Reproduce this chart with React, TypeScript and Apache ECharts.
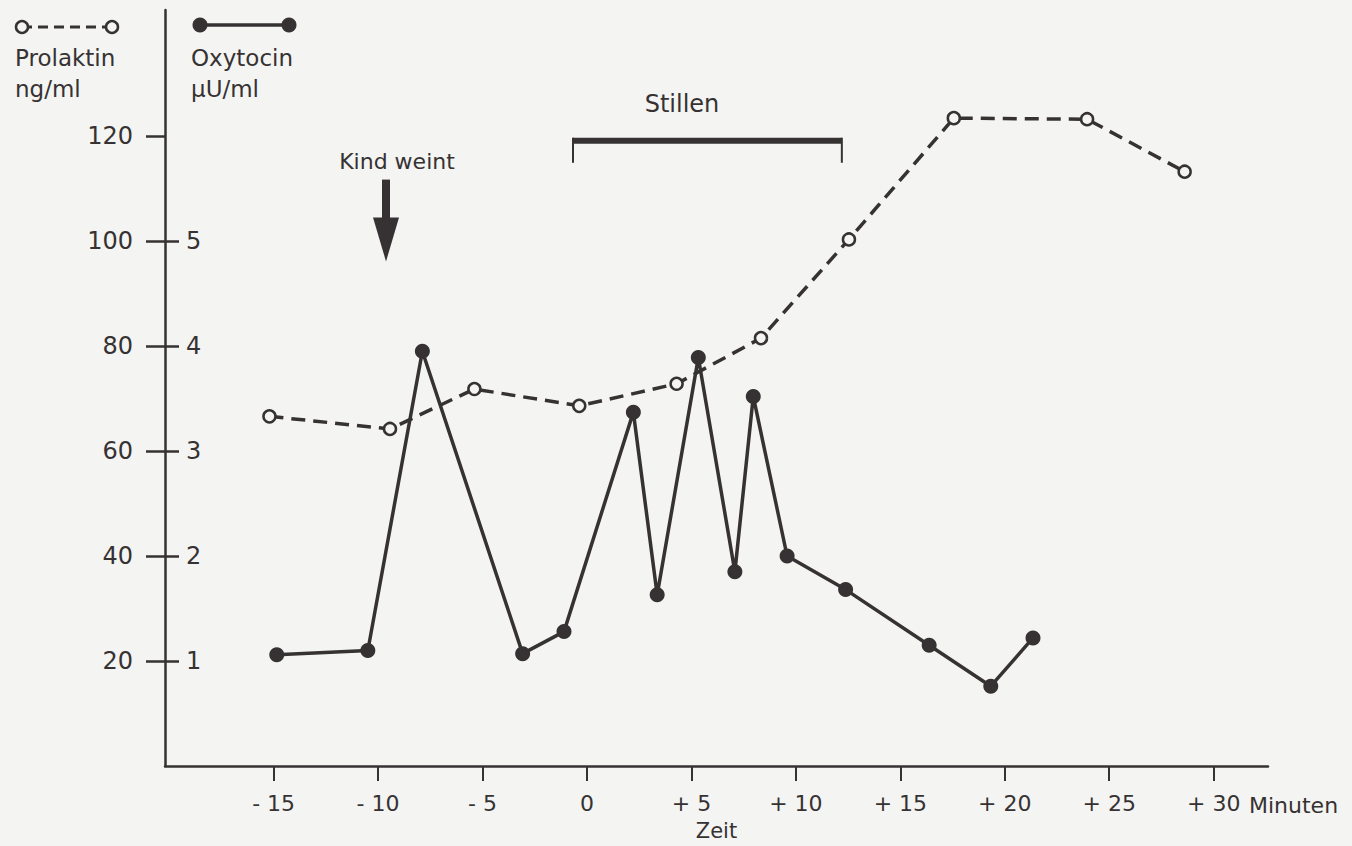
import React, { useEffect, useRef } from "react";
import * as echarts from "echarts";

// Time axis (minutes)
const timeTicks = [-15, -10, -5, 0, 5, 10, 15, 20, 25, 30];
const timeLabels = ["- 15", "- 10", "- 5", "0", "+ 5", "+ 10", "+ 15", "+ 20", "+ 25", "+ 30"];

// Prolaktin (ng/ml), dashed line, open circles
const prolaktinTime = [-15.2, -9.43, -5.39, -0.37, 4.29, 8.33, 12.54, 17.56, 23.94, 28.61];
const prolaktinValue = [66.6, 64.2, 71.8, 68.6, 72.8, 81.5, 100.3, 123.4, 123.2, 113.2];

// Oxytocin (µU/ml), solid line, filled circles
const oxytocinTime = [-14.85, -10.49, -7.88, -3.08, -1.1, 2.22, 3.36, 5.33, 7.08, 7.96, 9.58, 12.38, 16.38, 19.33, 21.35];
const oxytocinValue = [1.06, 1.1, 3.95, 1.07, 1.28, 3.37, 1.63, 3.89, 1.85, 3.52, 2.0, 1.68, 1.15, 0.76, 1.22];

// Axis ticks
const prolaktinTicks = [20, 40, 60, 80, 100, 120];
const oxytocinTicks = [1, 2, 3, 4, 5];

// Annotations (time, value)
const stillen = { start: -0.67, end: 12.2, bar: 119.1, foot: 114.9 };
const kindWeint = { time: -9.62, from: 111.7, to: 96.1 };

const ink = "#363233";
const paper = "#f4f4f2";
const font = "DejaVu Sans";

export default function App() {
  const ref = useRef<HTMLDivElement>(null);

  useEffect(() => {
    if (!ref.current) return;
    const chart = echarts.init(ref.current, undefined, { renderer: "svg" });

    const prolaktinData = prolaktinTime.map((t, i) => [t, prolaktinValue[i]]);
    const oxytocinData = oxytocinTime.map((t, i) => [t, oxytocinValue[i]]);

    const option: any = {
      animation: false,
      backgroundColor: paper,
      grid: { left: 165, right: 84, top: 10, bottom: 78, containLabel: false },
      xAxis: {
        type: "value",
        min: -20.2,
        max: 32.6,
        name: "Zeit",
        nameLocation: "middle",
        nameGap: 54,
        nameTextStyle: { fontFamily: font, fontSize: 21, color: ink },
        axisLine: { show: true, onZero: false, lineStyle: { color: ink, width: 2.5 } },
        axisTick: { show: true, length: 15, customValues: timeTicks, lineStyle: { color: ink, width: 2 } },
        axisLabel: {
          customValues: timeTicks,
          margin: 26,
          fontFamily: font,
          fontSize: 22,
          color: ink,
          formatter: (v: number) => {
            const i = timeTicks.indexOf(Math.round(v));
            return i >= 0 ? timeLabels[i] : "";
          },
        },
        splitLine: { show: false },
      },
      yAxis: [
        {
          type: "value",
          min: 0,
          max: 144,
          position: "left",
          axisLine: { show: true, onZero: false, lineStyle: { color: ink, width: 2.5 } },
          axisTick: { show: true, length: 19, customValues: prolaktinTicks, lineStyle: { color: ink, width: 2.5 } },
          axisLabel: { customValues: prolaktinTicks, margin: 32, fontFamily: font, fontSize: 24, color: ink },
          splitLine: { show: false },
        },
        {
          type: "value",
          min: 0,
          max: 7.2,
          position: "left",
          offset: 0,
          axisLine: { show: false, onZero: false },
          axisTick: { show: true, inside: true, length: 14, customValues: oxytocinTicks, lineStyle: { color: ink, width: 2.5 } },
          axisLabel: { inside: true, customValues: oxytocinTicks, margin: 21, fontFamily: font, fontSize: 24, color: ink },
          splitLine: { show: false },
        },
      ],
      series: [
        {
          name: "Prolaktin",
          type: "line",
          yAxisIndex: 0,
          data: prolaktinData,
          z: 2,
          symbol: "circle",
          symbolSize: 12,
          itemStyle: { color: paper, borderColor: ink, borderWidth: 2.5 },
          lineStyle: { color: ink, width: 3.5, type: [14, 8] },
        },
        {
          name: "Oxytocin",
          type: "line",
          yAxisIndex: 1,
          data: oxytocinData,
          z: 3,
          symbol: "circle",
          symbolSize: 15,
          itemStyle: { color: ink },
          lineStyle: { color: ink, width: 3.5 },
        },
        {
          name: "Stillen",
          type: "custom",
          yAxisIndex: 0,
          data: [[stillen.start, stillen.end, stillen.bar, stillen.foot]],
          encode: { x: [0, 1], y: [2, 3] },
          renderItem: (_params: any, api: any) => {
            const a = api.coord([api.value(0), api.value(2)]);
            const b = api.coord([api.value(1), api.value(2)]);
            const af = api.coord([api.value(0), api.value(3)]);
            const bf = api.coord([api.value(1), api.value(3)]);
            return {
              type: "group",
              children: [
                { type: "line", shape: { x1: a[0], y1: a[1], x2: b[0], y2: b[1] }, style: { stroke: ink, lineWidth: 6 } },
                { type: "line", shape: { x1: a[0], y1: a[1] - 3, x2: af[0], y2: af[1] }, style: { stroke: ink, lineWidth: 2 } },
                { type: "line", shape: { x1: b[0], y1: b[1] - 3, x2: bf[0], y2: bf[1] }, style: { stroke: ink, lineWidth: 2 } },
              ],
            };
          },
        },
        {
          name: "Kind weint",
          type: "custom",
          yAxisIndex: 0,
          data: [[kindWeint.time, kindWeint.from, kindWeint.to]],
          encode: { x: 0, y: [1, 2] },
          renderItem: (_params: any, api: any) => {
            const top = api.coord([api.value(0), api.value(1)]);
            const tip = api.coord([api.value(0), api.value(2)]);
            const headLen = 44;
            const headHalf = 13;
            return {
              type: "group",
              children: [
                { type: "line", shape: { x1: top[0], y1: top[1], x2: tip[0], y2: tip[1] - headLen + 2 }, style: { stroke: ink, lineWidth: 8 } },
                {
                  type: "polygon",
                  shape: { points: [[tip[0] - headHalf, tip[1] - headLen], [tip[0] + headHalf, tip[1] - headLen], [tip[0], tip[1]]] },
                  style: { fill: ink },
                },
              ],
            };
          },
        },
      ],
      graphic: [
        // Prolaktin legend
        { type: "line", shape: { x1: 22, y1: 27, x2: 112, y2: 27 }, style: { stroke: ink, lineWidth: 3, lineDash: [10, 6] } },
        { type: "circle", shape: { cx: 22, cy: 27, r: 6 }, style: { fill: paper, stroke: ink, lineWidth: 2.5 } },
        { type: "circle", shape: { cx: 112, cy: 27, r: 6 }, style: { fill: paper, stroke: ink, lineWidth: 2.5 } },
        { type: "text", x: 15, y: 58, style: { text: "Prolaktin", font: `23px ${font}`, fill: ink, textVerticalAlign: "middle", verticalAlign: "middle" } },
        { type: "text", x: 15, y: 89, style: { text: "ng/ml", font: `23px ${font}`, fill: ink, textVerticalAlign: "middle", verticalAlign: "middle" } },
        // Oxytocin legend
        { type: "line", shape: { x1: 200, y1: 25, x2: 289, y2: 25 }, style: { stroke: ink, lineWidth: 3.5 } },
        { type: "circle", shape: { cx: 200, cy: 25, r: 7.5 }, style: { fill: ink } },
        { type: "circle", shape: { cx: 289, cy: 25, r: 7.5 }, style: { fill: ink } },
        { type: "text", x: 191, y: 58, style: { text: "Oxytocin", font: `23px ${font}`, fill: ink, textVerticalAlign: "middle", verticalAlign: "middle" } },
        { type: "text", x: 191, y: 89, style: { text: "µU/ml", font: `23px ${font}`, fill: ink, textVerticalAlign: "middle", verticalAlign: "middle" } },
        // Annotation texts
        { type: "text", x: 682, y: 104, style: { text: "Stillen", font: `24px ${font}`, fill: ink, textAlign: "center", align: "center", textVerticalAlign: "middle", verticalAlign: "middle" } },
        { type: "text", x: 397, y: 161, style: { text: "Kind weint", font: `22px ${font}`, fill: ink, textAlign: "center", align: "center", textVerticalAlign: "middle", verticalAlign: "middle" } },
        { type: "text", x: 1249, y: 805, style: { text: "Minuten", font: `22px ${font}`, fill: ink, textVerticalAlign: "middle", verticalAlign: "middle" } },
      ],
    };

    chart.setOption(option);
    return () => chart.dispose();
  }, []);

  return (
    <div
      ref={ref}
      style={{ position: "fixed", left: 0, top: 0, width: 1352, height: 846 }}
    />
  );
}
